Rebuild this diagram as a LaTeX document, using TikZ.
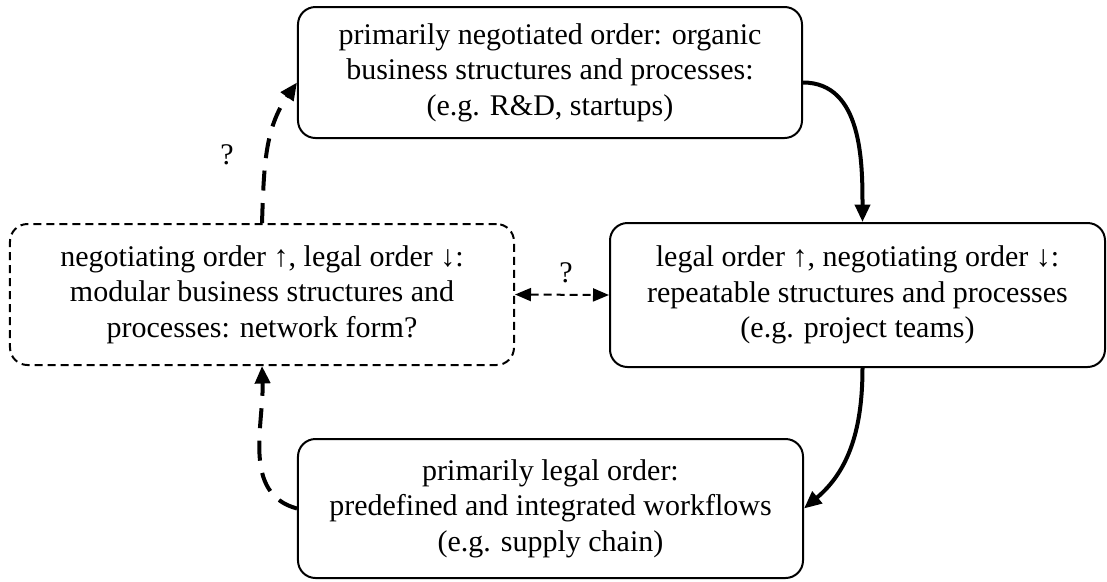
\documentclass[tikz,border=0pt]{standalone}
\usepackage{fontspec}
\setmainfont{Liberation Serif}
\usetikzlibrary{arrows.meta, positioning}

\tikzset{
    box/.style={draw, rounded corners=7pt, line width=0.8pt, align=center,
        inner sep=0pt, font=\fontsize{12}{14.2}\selectfont},
    dbox/.style={box, dash pattern=on 3.2pt off 2pt},
    solidarrow/.style={line width=1.6pt, -{Triangle[length=7pt,width=6pt]}},
    dasharrow/.style={solidarrow, dash pattern=on 8pt off 5pt},
    qarrow/.style={line width=0.8pt, dash pattern=on 3.2pt off 2pt,
        {Triangle[length=6.4pt,width=5.2pt]}-{Triangle[length=6.4pt,width=5.2pt]}},
    qmark/.style={font=\fontsize{12}{14.2}\selectfont}
}

\begin{document}
\begin{tikzpicture}[x=0.4pt, y=-0.4pt]
                    \useasboundingbox (0,0) rectangle (1107,581);

                    % the four forms of order
                    \node[box, minimum width=201.6pt, minimum height=52.4pt] (negotiated) at (550,72.5)
                        {primarily negotiated order:  organic\\ business structures and processes:\\ (e.g. R\&D, startups)};
                    \node[box, minimum width=198pt, minimum height=57.6pt] (repeatable) at (857.5,295)
                        {legal order ↑, negotiating order ↓:\\ repeatable structures and processes\\ (e.g. project teams)};
                    \node[box, minimum width=202pt, minimum height=55.6pt] (legal) at (550.5,508.5)
                        {primarily legal order:\\ predefined and integrated workflows\\ (e.g. supply chain)};
                    \node[dbox, minimum width=201.6pt, minimum height=56.4pt] (modular) at (262,294.5)
                        {negotiating order ↑, legal order ↓:\\ modular business structures and\\ processes:  network form?};

                    % cycle
                    \draw[solidarrow] ([yshift=-4pt]negotiated.east) to[out=0, in=90] ([xshift=2pt]repeatable.north);
                    \draw[solidarrow] ([xshift=2pt]repeatable.south) to[out=-90, in=40] (legal.east);
                    \draw[dasharrow] (legal.west) to[out=165, in=-88] (modular.south);
                    \draw[dasharrow] (modular.north) to[out=88, in=235] ([yshift=-4pt]negotiated.west);
                    \draw[qarrow] (modular.east) -- (repeatable.west);

                    \node[qmark] (q1) at (227,155) {?};
                    \node[qmark] (q2) at (566,273) {?};
                \end{tikzpicture}
\end{document}
